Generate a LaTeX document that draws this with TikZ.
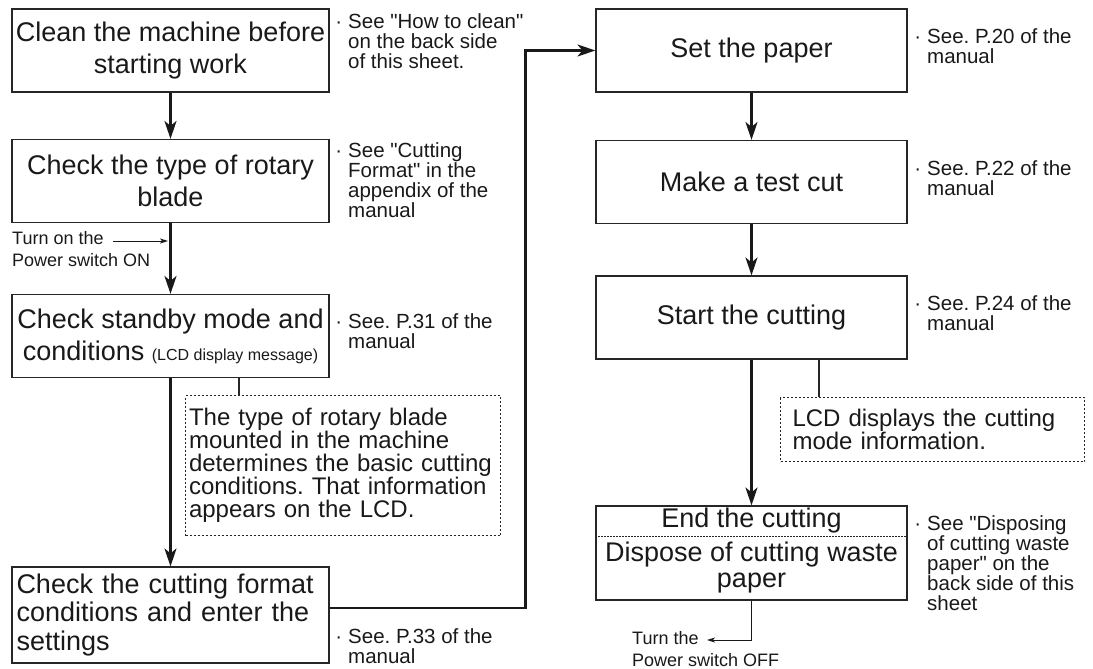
\documentclass[tikz,border=0pt]{standalone}
\usepackage{fontspec}
\setmainfont{Liberation Sans}
\newfontfamily\plainquote{Liberation Sans}
\usetikzlibrary{arrows.meta,positioning}

\tikzset{
  stepbox/.style={draw=black!85, line width=1.1pt, minimum width=317pt, minimum height=83pt,
    inner sep=0pt, align=center, text=black!90, font=\fontsize{27}{32}\selectfont},
  tipbox/.style={draw=black!85, line width=1.1pt, dash pattern=on 2pt off 2pt, inner sep=0pt,
    align=left, text=black!90, font=\fontsize{24}{23}\selectfont},
  note/.style={anchor=north west, inner sep=0pt, align=left, text=black!90,
    font=\fontsize{20.5}{20}\selectfont},
  hintnote/.style={anchor=north west, inner sep=0pt, align=left, text=black!90,
    font=\fontsize{18}{22}\selectfont},
  flow/.style={draw=black!90, line width=2.2pt, -{Stealth[length=18pt,width=12pt,inset=5pt]}},
  link/.style={draw=black!85, line width=1.1pt},
  hint/.style={draw=black!90, line width=1pt, -{Stealth[length=8pt,width=5pt,inset=2pt]}},
}
\newcommand{\see}{\llap{·\hspace{6pt}}}
\newcommand{\qq}{{\plainquote"}}
\frenchspacing

\begin{document}
\begin{tikzpicture}[x=1pt,y=-1pt]
  \useasboundingbox (0,0) rectangle (1093,669);

  %%%%% left column %%%%%
  \node[stepbox] (clean) at (170.5,50.5) {Clean the machine before\\starting work};
  \node[stepbox] (blade) at (170.5,181) {Check the type of rotary\\blade};
  \node[stepbox] (standby) at (170.5,336) {Check standby mode and\\conditions {\fontsize{16}{16}\selectfont (LCD display message)}};
  \node[stepbox, minimum height=96pt, text width=308pt, align=left,
    font=\fontsize{27}{28.5}\selectfont] (format) at (170.5,615)
    {Check the cutting format\\conditions and enter the\\settings};

  \node[note] (cleanref) at (348,13) {\see See \qq How to clean\qq\\on the back side\\of this sheet.};
  \node[note] (bladeref) at (348,142) {\see See \qq Cutting\\Format\qq{} in the\\appendix of the\\manual};
  \node[note] (standbyref) at (348,313) {\see See. P.31 of the\\manual};
  \node[note] (formatref) at (348,628) {\see See. P.33 of the\\manual};

  \node[hintnote] (turnon) at (12,231) {Turn on the\\Power switch ON};
  \coordinate (onA) at (113,241);
  \coordinate (onB) at (168,241);

  \node[tipbox, anchor=north west, text width=308pt, minimum height=140pt, inner xsep=3.5pt] (bladetip) at (185,395)
    {The type of rotary blade\\mounted in the machine\\determines the basic cutting\\conditions. That information\\appears on the LCD.};

  %%%%% right column %%%%%
  \node[stepbox, minimum width=311pt] (paper) at (751.5,50.5) {Set the paper};
  \node[stepbox, minimum width=311pt] (testcut) at (751.5,182) {Make a test cut};
  \node[stepbox, minimum width=311pt] (start) at (751.5,317.5) {Start the cutting};
  \node[stepbox, minimum width=311pt, minimum height=94pt] (finish) at (751.5,553) {};
  \node[inner sep=0pt, text=black!90, font=\fontsize{27}{26}\selectfont] (endcut) at (751.5,521) {End the cutting};
  \node[inner sep=0pt, align=center, text=black!90, font=\fontsize{27}{26}\selectfont] (dispose) at (751.5,568)
    {Dispose of cutting waste\\paper};
  \draw[black!85, line width=0.9pt, dash pattern=on 1.5pt off 1.5pt] (finish.west |- 0,536) -- (finish.east |- 0,536);

  \node[note] (paperref) at (927,28) {\see See. P.20 of the\\manual};
  \node[note] (testcutref) at (927,160) {\see See. P.22 of the\\manual};
  \node[note] (startref) at (927,295) {\see See. P.24 of the\\manual};
  \node[note] (finishref) at (927,515) {\see See \qq Disposing\\of cutting waste\\paper\qq{} on the\\back side of this\\sheet};

  \node[tipbox, anchor=north west, text width=280pt, minimum height=64pt, inner xsep=12pt] (starttip) at (780,397)
    {LCD displays the cutting\\mode information.};

  \node[hintnote] (turnoff) at (632,631) {Turn the\\Power switch OFF};
  \coordinate (offA) at (707,640);

  %%%%% connectors %%%%%
  \draw[flow] (clean) -- (blade);
  \draw[flow] (blade) -- (standby);
  \draw[hint] (onA) -- (onB);
  \draw[flow] (standby) -- (format);
  \draw[link] ([xshift=54pt]bladetip.north west) -- ([xshift=54pt]bladetip.north west |- standby.south);
  \draw[flow] ([yshift=7pt]format.east) -- ++(196pt,0) |- (paper.west);
  \draw[flow] (paper) -- (testcut);
  \draw[flow] (testcut) -- (start);
  \draw[flow] (start) -- (finish);
  \draw[link] ([xshift=39pt]starttip.north west) -- ([xshift=39pt]starttip.north west |- start.south);
  \draw[hint] (finish.south) |- (offA);
\end{tikzpicture}
\end{document}
